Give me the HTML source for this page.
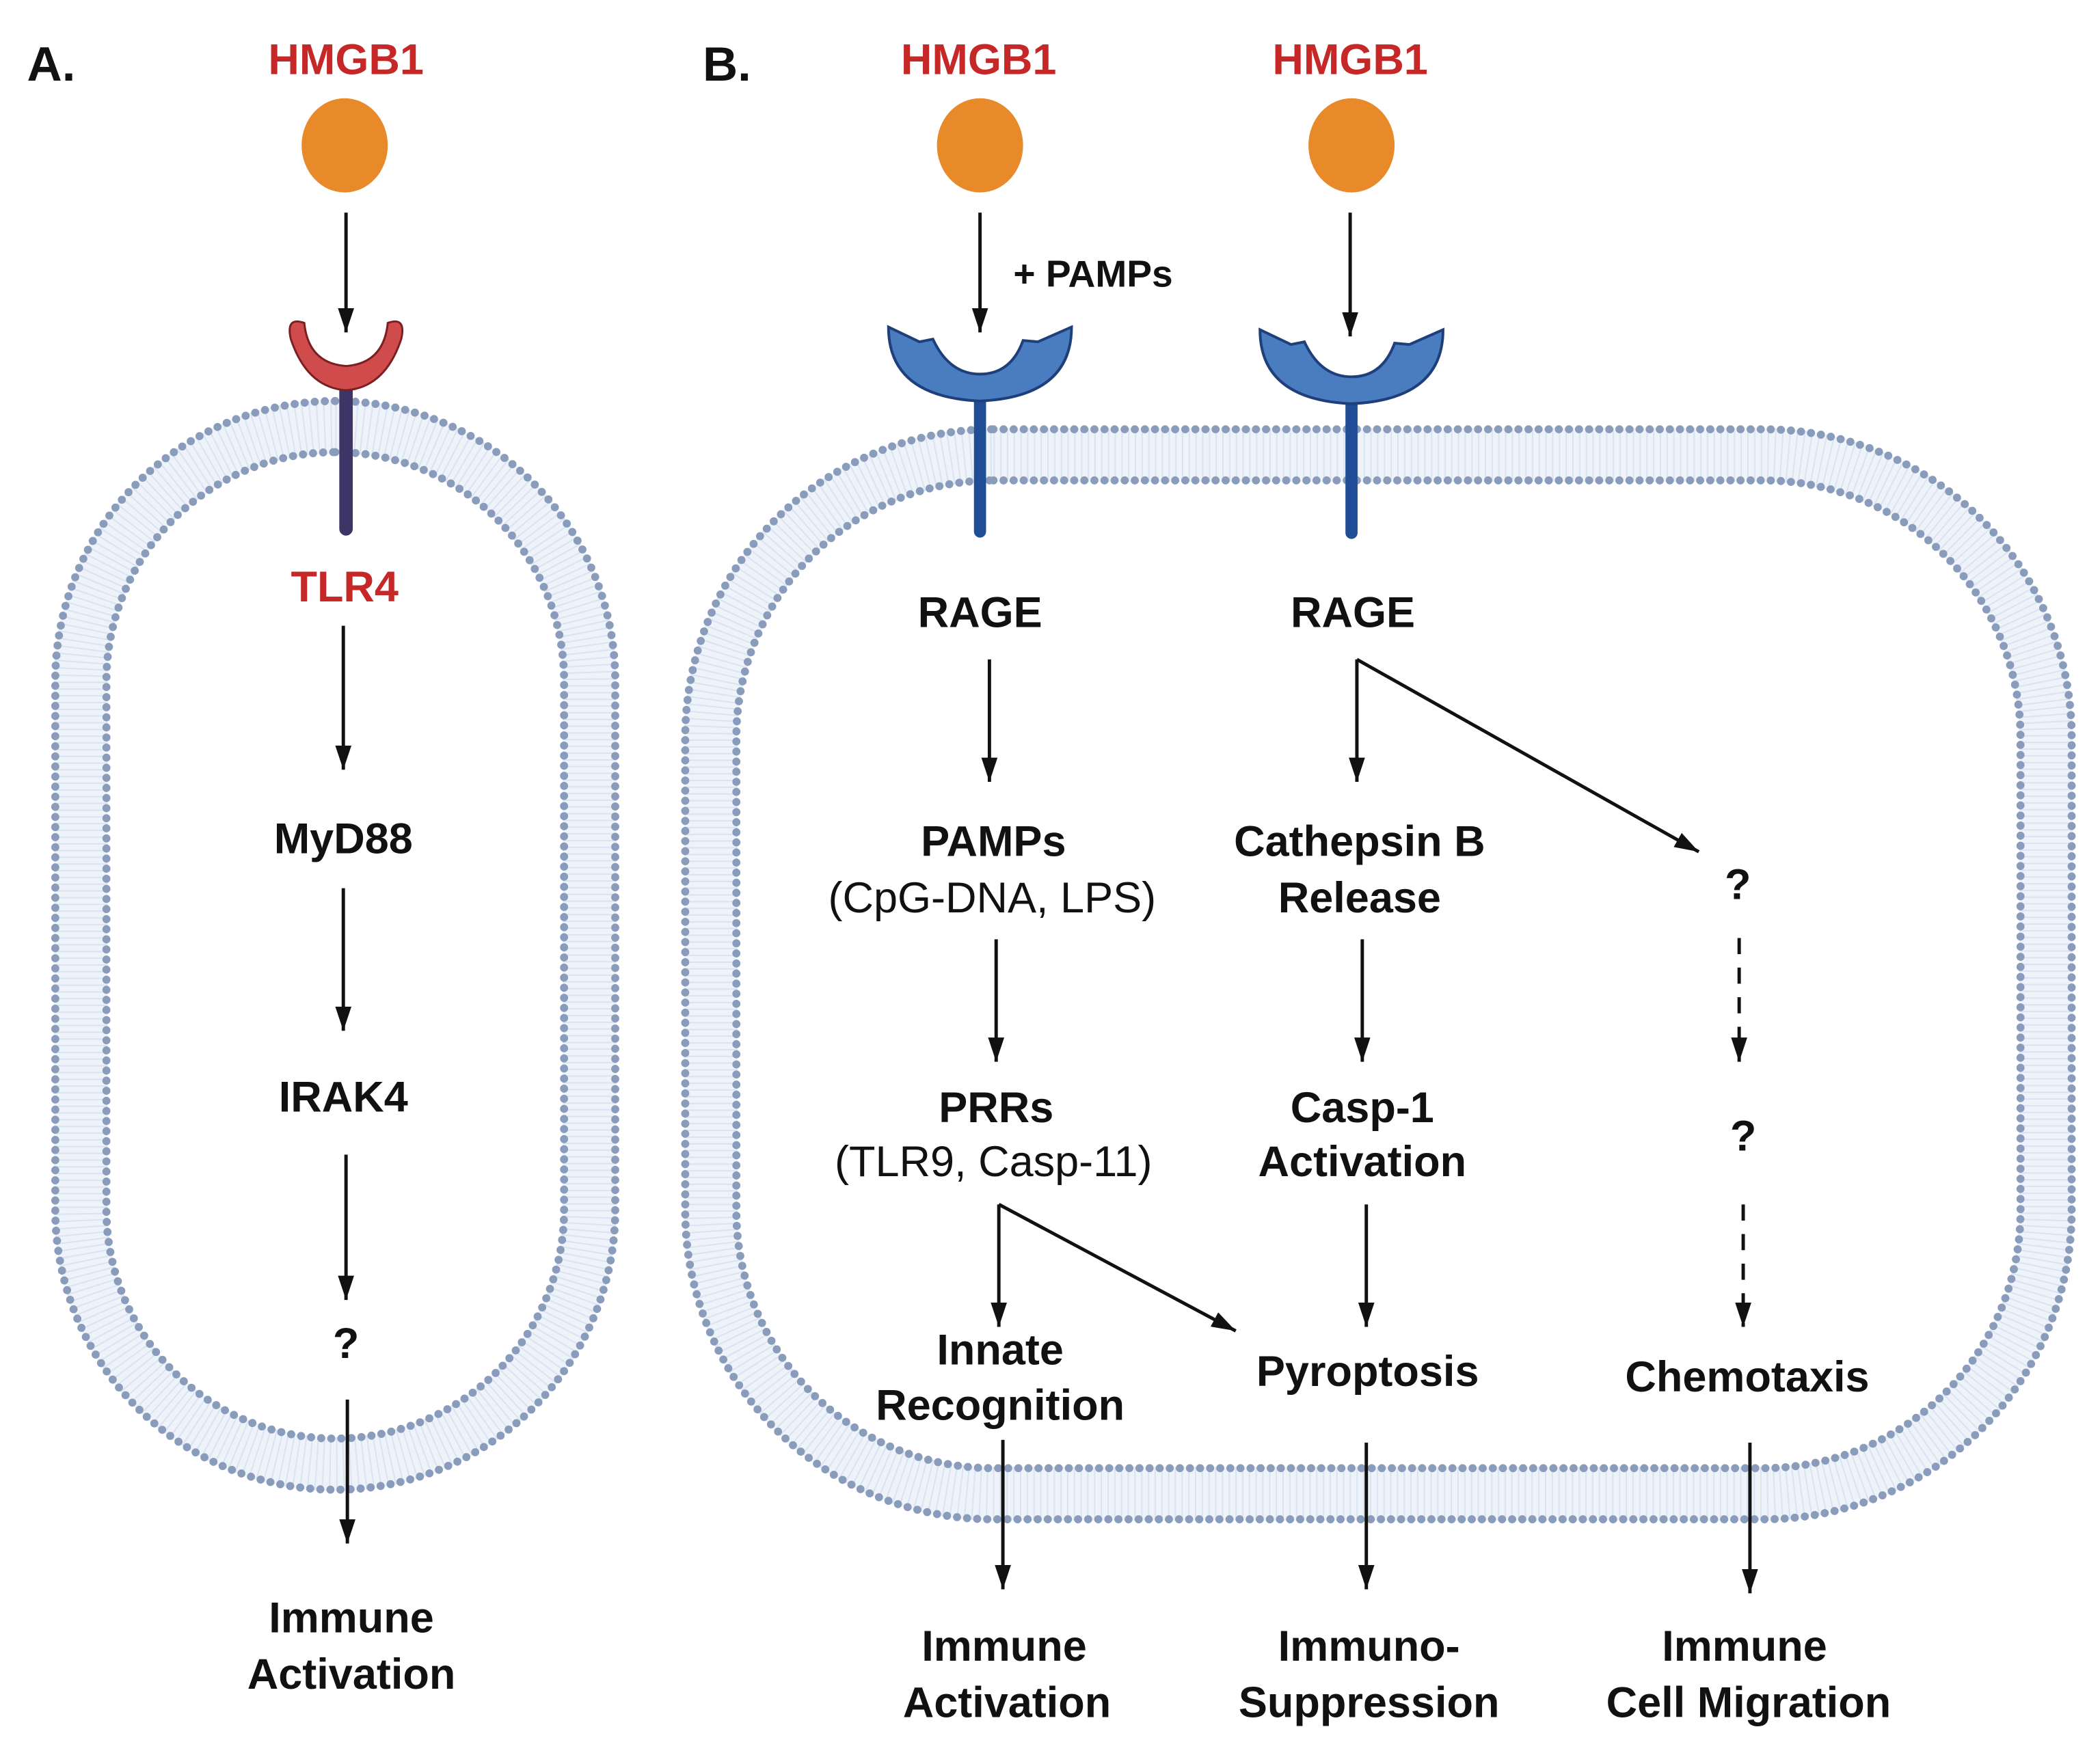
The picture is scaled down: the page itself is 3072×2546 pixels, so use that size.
<!DOCTYPE html>
<html><head><meta charset="utf-8"><style>
html,body{margin:0;padding:0;background:#fff}
svg{display:block}
text{font-family:"Liberation Sans",sans-serif;font-weight:bold;font-size:32px;fill:#111;text-anchor:middle}
.r{fill:#c62828}
.n{font-weight:normal}
</style></head><body>
<svg width="3072" height="2546" viewBox="0 0 1560 1293" xmlns="http://www.w3.org/2000/svg">
<defs>
<marker id="ah" viewBox="0 0 18 12" refX="18" refY="6" markerWidth="18" markerHeight="12" markerUnits="userSpaceOnUse" orient="auto">
<path d="M0,0 L18,6 L0,12 Z" fill="#111"/>
</marker>
</defs>

<!-- Membrane A -->
<rect x="60" y="317" width="378" height="771" rx="189" fill="none" stroke="#eef2f9" stroke-width="40"/>
<rect x="60" y="317" width="378" height="771" rx="189" fill="none" stroke="#cdd9ec" stroke-width="40" stroke-dasharray="1 4" opacity="0.6"/>
<rect x="41" y="298" width="416" height="809" rx="208" fill="none" stroke="#8a9cbb" stroke-width="6" stroke-linecap="round" stroke-dasharray="0 7.5"/>
<rect x="79" y="336" width="340" height="733" rx="170" fill="none" stroke="#8a9cbb" stroke-width="6" stroke-linecap="round" stroke-dasharray="0 7.5"/>

<!-- Membrane B -->
<rect x="528" y="338" width="992" height="772" rx="210" fill="none" stroke="#eef2f9" stroke-width="40"/>
<rect x="528" y="338" width="992" height="772" rx="210" fill="none" stroke="#cdd9ec" stroke-width="40" stroke-dasharray="1 4" opacity="0.6"/>
<rect x="509" y="319" width="1030" height="810" rx="229" fill="none" stroke="#8a9cbb" stroke-width="6" stroke-linecap="round" stroke-dasharray="0 7.5"/>
<rect x="547" y="357" width="954" height="734" rx="191" fill="none" stroke="#8a9cbb" stroke-width="6" stroke-linecap="round" stroke-dasharray="0 7.5"/>

<!-- Panel A -->
<text x="38" y="60" style="font-size:36px">A.</text>
<text x="257" y="55" class="r">HMGB1</text>
<ellipse cx="256" cy="108" rx="32" ry="35" fill="#e8892a"/>
<line x1="257" y1="158" x2="257" y2="247" stroke="#111" stroke-width="2.5" marker-end="url(#ah)"/>
<line x1="257" y1="280" x2="257" y2="393" stroke="#3d3565" stroke-width="10" stroke-linecap="round"/>
<path d="M226,240 Q212,235 216,252 Q228,288 257,290 Q286,288 298,252 Q302,235 288,240 Q285,270 257,272 Q229,270 226,240 Z" fill="#d04b4b" stroke="#7a1f22" stroke-width="1.5"/>
<text x="256" y="447" class="r">TLR4</text>
<line x1="255" y1="465" x2="255" y2="572" stroke="#111" stroke-width="2.5" marker-end="url(#ah)"/>
<text x="255" y="634">MyD88</text>
<line x1="255" y1="660" x2="255" y2="766" stroke="#111" stroke-width="2.5" marker-end="url(#ah)"/>
<text x="255" y="826">IRAK4</text>
<line x1="257" y1="858" x2="257" y2="966" stroke="#111" stroke-width="2.5" marker-end="url(#ah)"/>
<text x="257" y="1009">?</text>
<line x1="258" y1="1040" x2="258" y2="1147" stroke="#111" stroke-width="2.5" marker-end="url(#ah)"/>
<text x="261" y="1213">Immune</text>
<text x="261" y="1255">Activation</text>

<!-- Panel B -->
<text x="540" y="60" style="font-size:36px">B.</text>
<text x="727" y="55" class="r">HMGB1</text>
<text x="1003" y="55" class="r">HMGB1</text>
<ellipse cx="728" cy="108" rx="32" ry="35" fill="#e8892a"/>
<ellipse cx="1004" cy="108" rx="32" ry="35" fill="#e8892a"/>
<line x1="728" y1="158" x2="728" y2="247" stroke="#111" stroke-width="2.5" marker-end="url(#ah)"/>
<line x1="1003" y1="158" x2="1003" y2="250" stroke="#111" stroke-width="2.5" marker-end="url(#ah)"/>
<text x="812" y="213" style="font-size:28px">+  PAMPs</text>

<line x1="728" y1="290" x2="728" y2="395" stroke="#1f4e96" stroke-width="9" stroke-linecap="round"/>
<line x1="1004" y1="290" x2="1004" y2="396" stroke="#1f4e96" stroke-width="9" stroke-linecap="round"/>
<path d="M660,243 L683,254 L693,252 Q705,278 728,278 Q751,278 760,253 L771,254 L796,243 Q796,295 728,298 Q660,295 660,243 Z" fill="#4a7cc0" stroke="#1e3f7a" stroke-width="2"/>
<path d="M936,245 L959,256 L969,254 Q981,280 1004,280 Q1027,280 1036,255 L1047,256 L1072,245 Q1072,297 1004,300 Q936,297 936,245 Z" fill="#4a7cc0" stroke="#1e3f7a" stroke-width="2"/>

<text x="728" y="466">RAGE</text>
<text x="1005" y="466">RAGE</text>

<line x1="735" y1="490" x2="735" y2="581" stroke="#111" stroke-width="2.5" marker-end="url(#ah)"/>
<text x="738" y="636">PAMPs</text>
<text x="737" y="678" class="n">(CpG-DNA, LPS)</text>
<line x1="740" y1="698" x2="740" y2="789" stroke="#111" stroke-width="2.5" marker-end="url(#ah)"/>
<text x="740" y="834">PRRs</text>
<text x="738" y="874" class="n">(TLR9, Casp-11)</text>
<line x1="742" y1="895" x2="742" y2="986" stroke="#111" stroke-width="2.5" marker-end="url(#ah)"/>
<line x1="742" y1="895" x2="918" y2="989" stroke="#111" stroke-width="2.5" marker-end="url(#ah)"/>
<text x="743" y="1014">Innate</text>
<text x="743" y="1055">Recognition</text>
<line x1="745" y1="1070" x2="745" y2="1181" stroke="#111" stroke-width="2.5" marker-end="url(#ah)"/>
<text x="746" y="1234">Immune</text>
<text x="748" y="1276">Activation</text>

<line x1="1008" y1="490" x2="1008" y2="581" stroke="#111" stroke-width="2.5" marker-end="url(#ah)"/>
<line x1="1008" y1="490" x2="1262" y2="633" stroke="#111" stroke-width="2.5" marker-end="url(#ah)"/>
<text x="1010" y="636">Cathepsin B</text>
<text x="1010" y="678">Release</text>
<line x1="1012" y1="698" x2="1012" y2="789" stroke="#111" stroke-width="2.5" marker-end="url(#ah)"/>
<text x="1012" y="834">Casp-1</text>
<text x="1012" y="874">Activation</text>
<line x1="1015" y1="895" x2="1015" y2="986" stroke="#111" stroke-width="2.5" marker-end="url(#ah)"/>
<text x="1016" y="1030">Pyroptosis</text>
<line x1="1015" y1="1072" x2="1015" y2="1181" stroke="#111" stroke-width="2.5" marker-end="url(#ah)"/>
<text x="1017" y="1234">Immuno-</text>
<text x="1017" y="1276">Suppression</text>

<text x="1291" y="668">?</text>
<line x1="1292" y1="697" x2="1292" y2="789" stroke="#111" stroke-width="2.5" stroke-dasharray="12 10" marker-end="url(#ah)"/>
<text x="1295" y="855">?</text>
<line x1="1295" y1="895" x2="1295" y2="986" stroke="#111" stroke-width="2.5" stroke-dasharray="12 10" marker-end="url(#ah)"/>
<text x="1298" y="1034">Chemotaxis</text>
<line x1="1300" y1="1072" x2="1300" y2="1184" stroke="#111" stroke-width="2.5" marker-end="url(#ah)"/>
<text x="1296" y="1234">Immune</text>
<text x="1299" y="1276">Cell Migration</text>
</svg>
</body></html>
